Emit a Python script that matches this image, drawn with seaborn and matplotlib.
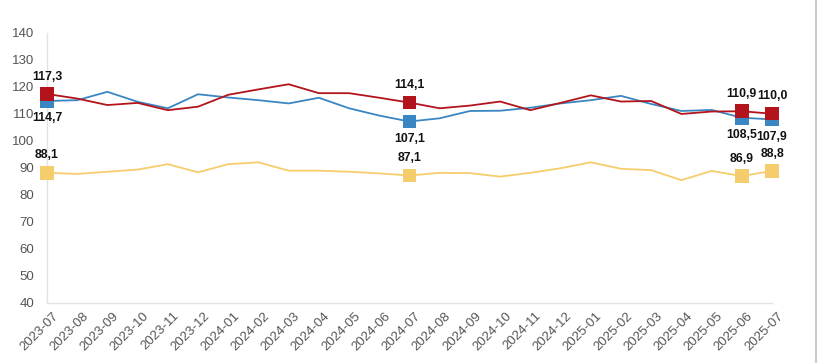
import numpy as np
import pandas as pd
import matplotlib
matplotlib.use('Agg')
import matplotlib.pyplot as plt
import matplotlib.transforms as mtransforms
import seaborn as sns

sns.set_style('white')
plt.rcParams['font.family'] = ['Liberation Sans', 'DejaVu Sans']

# months 2023-07 .. 2025-07
months = ['2023-07', '2023-08', '2023-09', '2023-10', '2023-11', '2023-12',
          '2024-01', '2024-02', '2024-03', '2024-04', '2024-05', '2024-06',
          '2024-07', '2024-08', '2024-09', '2024-10', '2024-11', '2024-12',
          '2025-01', '2025-02', '2025-03', '2025-04', '2025-05', '2025-06',
          '2025-07']

red_vals = [117.3, 115.6, 113.2, 114.0, 111.3, 112.6, 117.0, 119.0, 120.9, 117.6,
            117.6, 115.9, 114.1, 112.0, 113.0, 114.5, 111.3, 114.0, 116.8, 114.5,
            114.7, 109.9, 110.8, 110.9, 110.0]
blue_vals = [114.7, 115.0, 118.1, 114.4, 112.0, 117.2, 116.0, 115.0, 113.8, 115.9,
             112.0, 109.3, 107.1, 108.3, 111.0, 111.1, 112.2, 113.8, 115.0, 116.6,
             113.6, 111.0, 111.4, 108.5, 107.9]
yellow_vals = [88.1, 87.7, 88.5, 89.3, 91.3, 88.3, 91.3, 92.0, 88.9, 88.9,
               88.5, 87.9, 87.1, 88.1, 88.0, 86.7, 88.1, 89.8, 92.0, 89.6,
               89.1, 85.4, 88.8, 86.9, 88.8]

# months that get a square marker + value label
marked = [0, 12, 23, 24]

series_names = ['yellow', 'blue', 'red']
colors = {'red': '#B3141C', 'blue': '#3A86C2', 'yellow': '#F5CD6C'}

df = pd.DataFrame({
    'x': list(range(len(months))) * 3,
    'value': yellow_vals + blue_vals + red_vals,
    'series': ['yellow'] * len(months) + ['blue'] * len(months) + ['red'] * len(months),
})

fig = plt.figure(figsize=(8.2, 3.63), dpi=100)
ax = fig.add_axes([0.0573, 0.166, 0.8842, 0.744])

sns.lineplot(data=df, x='x', y='value', hue='series', palette=colors,
             hue_order=series_names, linewidth=1.3, legend=False, ax=ax)

pts = df[df['x'].isin(marked)]
sns.scatterplot(data=pts, x='x', y='value', hue='series', palette=colors,
                hue_order=series_names, marker='s', s=95, linewidth=0,
                legend=False, ax=ax, zorder=5, clip_on=False)

# value labels: red & yellow above, blue below
for name, vals, dy in [('red', red_vals, 12.5), ('yellow', yellow_vals, 12.5), ('blue', blue_vals, -12.5)]:
    for i in marked:
        ax.annotate(f'{vals[i]:.1f}'.replace('.', ','), (i, vals[i]),
                    xytext=(0, dy), textcoords='offset points',
                    ha='center', va='center', fontsize=8.8, fontweight='bold',
                    color='#111111')

ax.set_xlim(0, len(months) - 1)
ax.set_ylim(40, 140)
ax.set_yticks(range(40, 141, 10))
ax.set_xticks(range(len(months)))
ax.set_xticklabels(months, rotation=45, ha='right', rotation_mode='anchor')
ax.tick_params(axis='y', labelsize=9.5, labelcolor='#555555', length=0, pad=9)
ax.tick_params(axis='x', labelsize=9.5, labelcolor='#555555', length=0, pad=5)

# nudge the rotated month labels a little to the right
shift = mtransforms.ScaledTranslation(5 / 100, 0, fig.dpi_scale_trans)
for lbl in ax.get_xticklabels():
    lbl.set_transform(lbl.get_transform() + shift)

ax.set_xlabel('')
ax.set_ylabel('')
sns.despine(ax=ax, top=True, right=True)
for s in ['left', 'bottom']:
    ax.spines[s].set_color('#e3e3e3')
    ax.spines[s].set_linewidth(1)
ax.grid(False)

# frame edge at the right of the screenshot
fig.add_artist(plt.Line2D([0.995, 0.995], [0, 1], transform=fig.transFigure,
                          color='#c8c8c8', linewidth=1.5))

fig.savefig('out.png', dpi=100)
